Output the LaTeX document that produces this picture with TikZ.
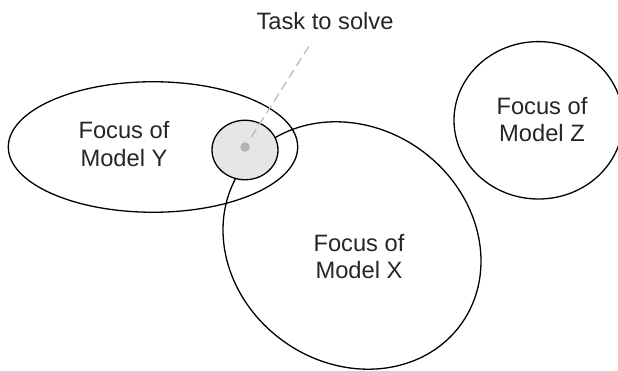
\documentclass[tikz,border=0pt]{standalone}
\usepackage{fontspec}
\setmainfont{Liberation Sans}
\usetikzlibrary{shapes.geometric}
\definecolor{taskfill}{HTML}{E6E6E6}
\definecolor{dotgray}{HTML}{B3B3B3}
\definecolor{dashgray}{HTML}{BBBBBB}
\begin{document}
\begin{tikzpicture}[x=1pt,y=-1pt,
  focus/.style={draw=black, line width=1.3pt, ellipse, inner sep=0pt},
  lbl/.style={font=\fontsize{23.7}{27.5}\selectfont, align=center, inner sep=0pt, text=black!85},
  leader/.style={draw=dashgray, line width=1.3pt, dash pattern=on 9pt off 5pt}
]
\useasboundingbox (0,0) rectangle (618,371);
% focus areas
\node[focus, minimum width=169pt, minimum height=157.4pt] (Z) at (538.5,120.3) {};
\node[focus, minimum width=289.4pt, minimum height=130.5pt] (Y) at (153,147) {};
\node[focus, minimum width=269pt, minimum height=235.4pt, rotate=-35.8] (X) at (352,245.5) {};
% labels
\node[lbl] (Zl) at (542,119.5) {Focus of\\Model Z};
\node[lbl] (Yl) at (124,144) {Focus of\\Model Y};
\node[lbl] (Xl) at (359,256.5) {Focus of\\Model X};
% task
\node[focus, fill=taskfill, minimum width=66pt, minimum height=59.5pt] (T) at (245,150) {};
\node[circle, fill=dotgray, minimum size=9.5pt, inner sep=0pt] (dot) at (245,147) {};
\node[lbl] (task) at (325,21) {Task to solve};
\draw[leader, shorten <=12pt, shorten >=25pt] (dot.center) -- (task.center);
\end{tikzpicture}
\end{document}
